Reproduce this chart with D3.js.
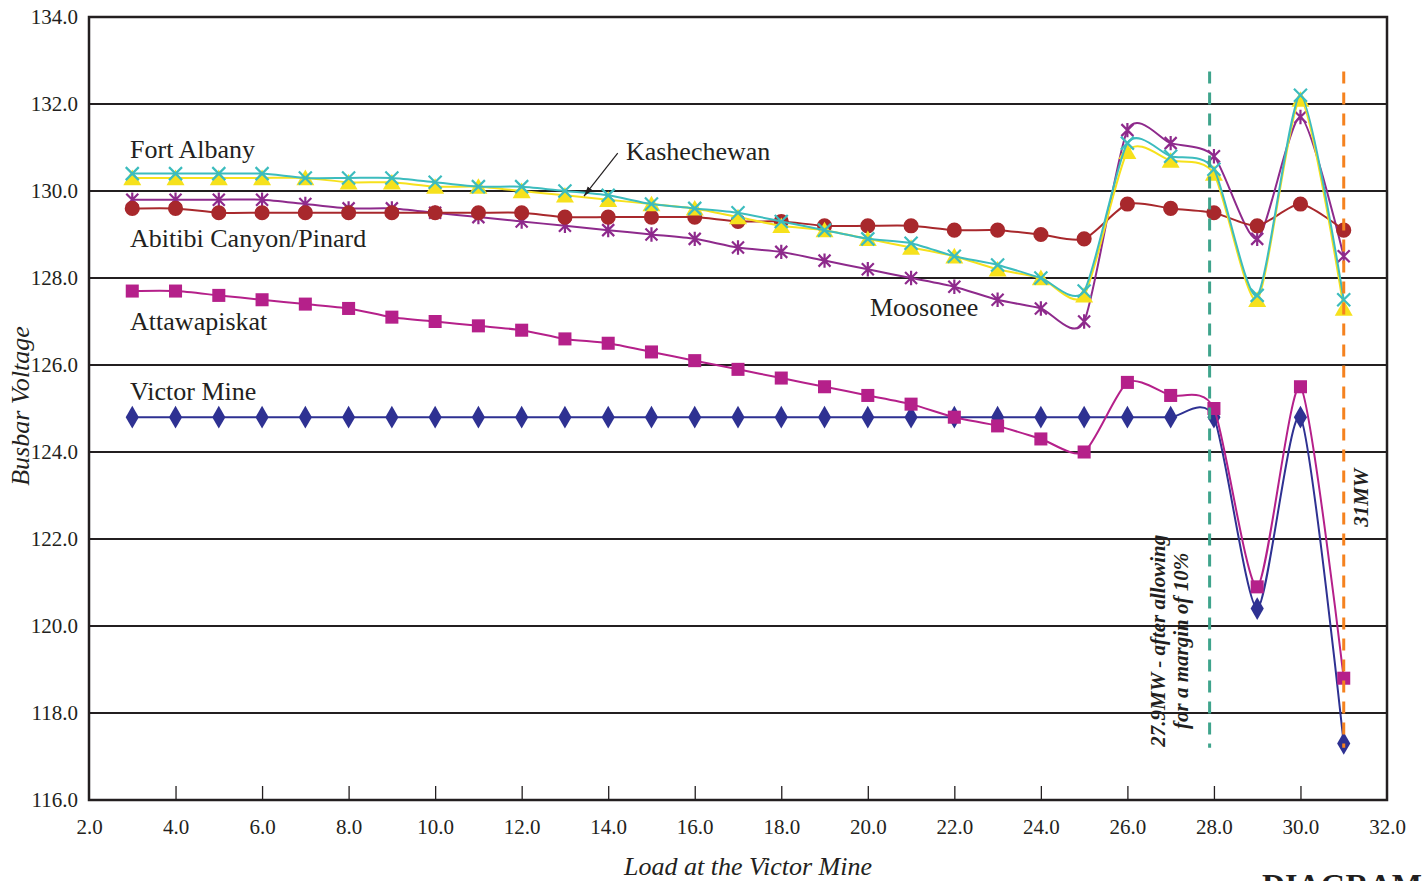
<!DOCTYPE html>
<html>
<head>
<meta charset="utf-8">
<script src="https://cdn.jsdelivr.net/npm/d3@7"></script>
<style>
  html, body { margin: 0; padding: 0; background: #fff; }
  svg { display: block; }
  text { font-family: "Liberation Serif", "Times New Roman", serif; fill: #231f20; }
</style>
</head>
<body>
<svg id="chart" width="1426" height="881"></svg>
<script>
// Load at the Victor Mine (MW)
const loads = [3,4,5,6,7,8,9,10,11,12,13,14,15,16,17,18,19,20,21,22,23,24,25,26,27,28,29,30,31];

// Busbar voltages (kV) per station
const fortAlbany   = [130.4,130.4,130.4,130.4,130.3,130.3,130.3,130.2,130.1,130.1,130.0,129.9,129.7,129.6,129.5,129.3,129.1,128.9,128.8,128.5,128.3,128.0,127.7,131.1,130.8,130.5,127.6,132.2,127.5];
const kashechewan  = [130.3,130.3,130.3,130.3,130.3,130.2,130.2,130.1,130.1,130.0,129.9,129.8,129.7,129.6,129.4,129.2,129.1,128.9,128.7,128.5,128.2,128.0,127.6,130.9,130.7,130.4,127.5,132.1,127.3];
const moosonee     = [129.8,129.8,129.8,129.8,129.7,129.6,129.6,129.5,129.4,129.3,129.2,129.1,129.0,128.9,128.7,128.6,128.4,128.2,128.0,127.8,127.5,127.3,127.0,131.4,131.1,130.8,128.9,131.7,128.5];
const abitibi      = [129.6,129.6,129.5,129.5,129.5,129.5,129.5,129.5,129.5,129.5,129.4,129.4,129.4,129.4,129.3,129.3,129.2,129.2,129.2,129.1,129.1,129.0,128.9,129.7,129.6,129.5,129.2,129.7,129.1];
const attawapiskat = [127.7,127.7,127.6,127.5,127.4,127.3,127.1,127.0,126.9,126.8,126.6,126.5,126.3,126.1,125.9,125.7,125.5,125.3,125.1,124.8,124.6,124.3,124.0,125.6,125.3,125.0,120.9,125.5,118.8];
const victorMine   = [124.8,124.8,124.8,124.8,124.8,124.8,124.8,124.8,124.8,124.8,124.8,124.8,124.8,124.8,124.8,124.8,124.8,124.8,124.8,124.8,124.8,124.8,124.8,124.8,124.8,124.8,120.4,124.8,117.3];

// Axis ticks
const xTicks = [2,4,6,8,10,12,14,16,18,20,22,24,26,28,30,32];
const yTicks = [116,118,120,122,124,126,128,130,132,134];

// Station names, drawn next to their curves
const stationNames = ["Fort Albany","Kashechewan","Moosonee","Abitibi Canyon/Pinard","Attawapiskat","Victor Mine"];
const stationLabelX = [2.95,14.41,20.05,2.95,2.95,2.95];
const stationLabelY = [130.76,130.71,127.13,128.71,126.80,125.20];

// Load limits
const limitLoads = [27.9, 31];
const limitText = [["27.9MW - after allowing","for a margin of 10%"],["31MW"]];

const svg = d3.select("#chart");
const margin = {left: 89, right: 39, top: 17, bottom: 81};
const W = 1426, H = 881;

const x = d3.scaleLinear().domain([2, 32]).range([margin.left, W - margin.right]);
const y = d3.scaleLinear().domain([116, 134]).range([H - margin.bottom, margin.top]);

const ink = "#231f20";

// horizontal gridlines
svg.append("g").selectAll("line").data(yTicks.filter(v => v > 116 && v < 134)).join("line")
  .attr("x1", x(2)).attr("x2", x(32))
  .attr("y1", d => y(d)).attr("y2", d => y(d))
  .attr("stroke", ink).attr("stroke-width", 2);

// x axis with small inward ticks
const xAxis = d3.axisBottom(x).tickValues(xTicks).tickSize(-14).tickFormat(d3.format(".1f"));
const gx = svg.append("g").attr("transform", `translate(0,${y(116)})`).call(xAxis);
gx.select(".domain").remove();
gx.selectAll(".tick line").attr("stroke", ink).attr("stroke-width", 1.3);
gx.selectAll(".tick text").attr("y", 0).attr("dy", "34px")
  .style("font-size", "21px").style("font-family", "'Liberation Serif', serif").attr("fill", ink);
gx.selectAll(".tick").filter(d => d === 2 || d === 32).select("line").remove();

// y axis labels
const yAxis = d3.axisLeft(y).tickValues(yTicks).tickSize(0).tickPadding(11).tickFormat(d3.format(".1f"));
const gy = svg.append("g").attr("transform", `translate(${x(2)},0)`).call(yAxis);
gy.select(".domain").remove();
gy.selectAll(".tick text").attr("dy", "0.3em")
  .style("font-size", "21px").style("font-family", "'Liberation Serif', serif").attr("fill", ink);

// plot frame
svg.append("rect")
  .attr("x", x(2)).attr("y", y(134))
  .attr("width", x(32) - x(2)).attr("height", y(116) - y(134))
  .attr("fill", "none").attr("stroke", ink).attr("stroke-width", 2.5);

// marker shapes
function xPath(s) { const h = s / 2; return `M${-h},${-h}L${h},${h}M${-h},${h}L${h},${-h}`; }
function starPath(s) { const h = s / 2; return `M${-h},${-h}L${h},${h}M${-h},${h}L${h},${-h}M0,${-h * 1.2}L0,${h * 1.2}`; }
const sym = (type, size) => d3.symbol().type(type).size(size)();

const series = [
  {name: "Victor Mine",  values: victorMine,   color: "#2e3192", marker: () => sym(d3.symbolDiamond, 150), filled: true},
  {name: "Attawapiskat", values: attawapiskat, color: "#b5208a", marker: () => sym(d3.symbolSquare, 170), filled: true},
  {name: "Moosonee",     values: moosonee,     color: "#8e2a8c", marker: () => starPath(12), filled: false},
  {name: "Abitibi",      values: abitibi,      color: "#a8282c", marker: () => sym(d3.symbolCircle, 180), filled: true},
  {name: "Kashechewan",  values: kashechewan,  color: "#f6e11c", marker: () => sym(d3.symbolTriangle, 140), filled: true},
  {name: "Fort Albany",  values: fortAlbany,   color: "#3cbcbe", marker: () => xPath(13), filled: false}
];

// smoothed lines
const line = d3.line().x(d => x(d[0])).y(d => y(d[1])).curve(d3.curveCardinal.tension(0.3));

series.forEach(s => {
  const pts = loads.map((l, i) => [l, s.values[i]]);
  const g = svg.append("g");
  g.append("path").datum(pts).attr("d", line)
    .attr("fill", "none").attr("stroke", s.color).attr("stroke-width", 2);
  g.selectAll("path.m").data(pts).join("path").attr("class", "m")
    .attr("transform", d => `translate(${x(d[0])},${y(d[1]) + (s.name === "Kashechewan" ? 2 : 0)})`)
    .attr("d", s.marker())
    .attr("fill", s.filled ? s.color : "none")
    .attr("stroke", s.color)
    .attr("stroke-width", s.filled ? 0 : 2.2);
});

// load limit lines
const limitColors = ["#3fa48c", "#f5821f"];
limitLoads.forEach((l, i) => {
  svg.append("line")
    .attr("x1", x(l)).attr("x2", x(l))
    .attr("y1", y(132.75)).attr("y2", y(117.2))
    .attr("stroke", limitColors[i]).attr("stroke-width", 3)
    .attr("stroke-dasharray", "12,9");
});

// limit annotations (vertical text)
const ann1 = svg.append("text")
  .attr("transform", `translate(${x(limitLoads[0]) - 45},${y(119.66)}) rotate(-90)`)
  .attr("text-anchor", "middle")
  .style("font-size", "21px").style("font-weight", "bold").style("font-style", "italic");
ann1.append("tspan").attr("x", 0).attr("dy", 0).text(limitText[0][0]);
ann1.append("tspan").attr("x", 0).attr("dy", "1.1em").text(limitText[0][1]);

svg.append("text")
  .attr("transform", `translate(${x(limitLoads[1]) + 24},${y(122.95)}) rotate(-90)`)
  .attr("text-anchor", "middle")
  .style("font-size", "21px").style("font-weight", "bold").style("font-style", "italic")
  .text(limitText[1][0]);

// station labels
svg.append("g").selectAll("text").data(stationNames).join("text")
  .attr("x", (d, i) => x(stationLabelX[i]))
  .attr("y", (d, i) => y(stationLabelY[i]))
  .style("font-size", "26px")
  .text(d => d);

// arrow pointing to the Kashechewan curve
svg.append("defs").append("marker")
  .attr("id", "arrowhead").attr("viewBox", "0 0 10 10")
  .attr("refX", 10).attr("refY", 5)
  .attr("markerWidth", 10).attr("markerHeight", 10)
  .attr("markerUnits", "userSpaceOnUse")
  .attr("orient", "auto")
  .append("path").attr("d", "M0,2L10,5L0,8Z").attr("fill", ink);
svg.append("line")
  .attr("x1", x(14.22)).attr("y1", y(130.87))
  .attr("x2", x(13.44)).attr("y2", y(129.88))
  .attr("stroke", ink).attr("stroke-width", 1.2)
  .attr("marker-end", "url(#arrowhead)");

// axis titles
svg.append("text")
  .attr("x", (x(2) + x(32)) / 2 + 10).attr("y", 875)
  .attr("text-anchor", "middle")
  .style("font-size", "26px").style("font-style", "italic")
  .text("Load at the Victor Mine");

svg.append("text")
  .attr("transform", `translate(29,406) rotate(-90)`)
  .attr("text-anchor", "middle")
  .style("font-size", "26px").style("font-style", "italic")
  .text("Busbar Voltage");

// diagram caption
svg.append("text")
  .attr("x", 1262).attr("y", 896)
  .style("font-size", "32px").style("font-weight", "bold")
  .text("DIAGRAM 1");
</script>
</body>
</html>
